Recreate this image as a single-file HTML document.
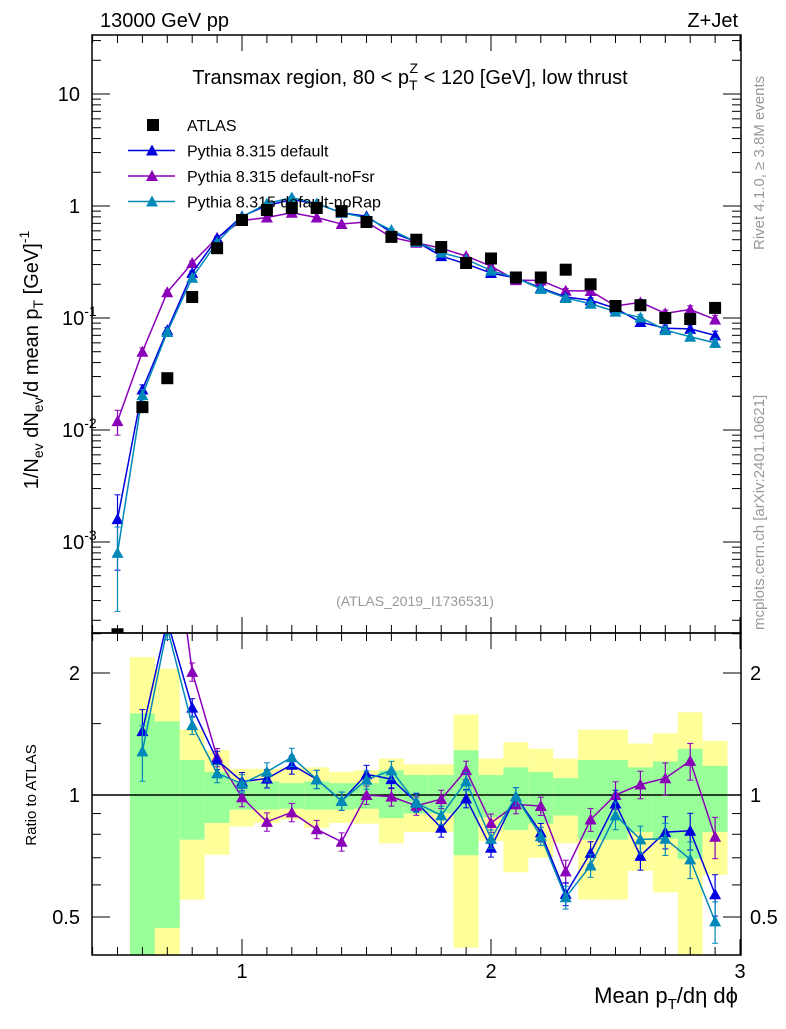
<!DOCTYPE html>
<html><head><meta charset="utf-8"><style>
body{margin:0;background:#fff}
svg text{font-family:"Liberation Sans",sans-serif}
</style></head><body>
<svg id="c" width="786" height="1024" viewBox="0 0 786 1024" xmlns="http://www.w3.org/2000/svg">
<rect width="786" height="1024" fill="#fff"/>
<g id="bands"></g>
<g id="grid"></g>
<g id="series"></g>
<rect x="92" y="35" width="649" height="598" fill="none" stroke="#000" stroke-width="1.5"/>
<rect x="92" y="633" width="649" height="322" fill="none" stroke="#000" stroke-width="1.5"/>
<text x="100" y="27" font-size="20">13000 GeV pp</text>
<text x="738" y="27" font-size="20" text-anchor="end">Z+Jet</text>
<text x="410" y="84" font-size="20" text-anchor="middle">Transmax region, 80 &lt; p<tspan font-size="14" dy="6">T</tspan><tspan font-size="14" dx="-8" dy="-17">Z</tspan><tspan dy="11"> &lt; 120 [GeV], low thrust</tspan></text>
<text x="415" y="606" font-size="14" fill="#999" text-anchor="middle">(ATLAS_2019_I1736531)</text>
<text transform="translate(764,250) rotate(-90)" font-size="15" fill="#999">Rivet 4.1.0, ≥ 3.8M events</text>
<text transform="translate(764,630) rotate(-90)" font-size="15" fill="#999">mcplots.cern.ch [arXiv:2401.10621]</text>
<text transform="translate(38,360) rotate(-90)" font-size="20" text-anchor="middle">1/N<tspan font-size="14" dy="5">ev</tspan><tspan dy="-5"> dN</tspan><tspan font-size="14" dy="5">ev</tspan><tspan dy="-5">/d mean p</tspan><tspan font-size="14" dy="5">T</tspan><tspan dy="-5"> [GeV]</tspan><tspan font-size="14" dy="-9">-1</tspan></text>
<text transform="translate(36,795) rotate(-90)" font-size="15" text-anchor="middle">Ratio to ATLAS</text>
<text x="738" y="1003" font-size="22" text-anchor="end">Mean p<tspan font-size="15" dy="6">T</tspan><tspan dy="-6">/dη dϕ</tspan></text>
<g id="legend"></g>
</svg>
<script>
const xs=[0.5,0.6,0.7,0.8,0.9,1.0,1.1,1.2,1.3,1.4,1.5,1.6,1.7,1.8,1.9,2.0,2.1,2.2,2.3,2.4,2.5,2.6,2.7,2.8,2.9];
const atlas=[1.5e-4,0.016,0.029,0.154,0.42,0.75,0.92,0.96,0.96,0.90,0.72,0.53,0.50,0.43,0.31,0.34,0.23,0.23,0.27,0.20,0.128,0.13,0.10,0.098,0.123];
const pyDefault=[1.6e-3,0.023,0.078,0.253,0.512,0.81,1.01,1.14,1.05,0.87,0.81,0.58,0.48,0.357,0.304,0.252,0.228,0.186,0.154,0.144,0.122,0.092,0.081,0.080,0.070];
const pyNoFsr=[0.012,0.05,0.17,0.31,0.52,0.74,0.79,0.87,0.79,0.69,0.72,0.525,0.47,0.42,0.357,0.29,0.218,0.216,0.175,0.174,0.128,0.138,0.11,0.119,0.097];
const pyNoRap=[8e-4,0.0205,0.075,0.229,0.475,0.80,1.05,1.19,1.05,0.87,0.785,0.61,0.478,0.383,0.335,0.265,0.228,0.182,0.151,0.134,0.114,0.101,0.078,0.068,0.060];
const errDefault=[0.65,0.1,0.05,0.04,0.03,0.02,0.02,0.02,0.02,0.02,0.02,0.02,0.03,0.03,0.03,0.03,0.04,0.04,0.05,0.05,0.06,0.06,0.07,0.08,0.09];
const errNoFsr=[0.25,0.08,0.04,0.04,0.03,0.02,0.02,0.02,0.02,0.02,0.02,0.02,0.03,0.03,0.03,0.03,0.04,0.04,0.05,0.05,0.06,0.06,0.07,0.08,0.09];
const errNoRap=[0.7,0.12,0.05,0.04,0.03,0.02,0.02,0.02,0.02,0.02,0.02,0.02,0.03,0.03,0.03,0.03,0.04,0.04,0.05,0.05,0.06,0.06,0.07,0.08,0.09];
const bandLo=[0.1,0.1,0.1,0.552,0.712,0.837,0.853,0.87,0.83,0.853,0.85,0.76,0.81,0.81,0.42,0.77,0.645,0.70,0.76,0.552,0.552,0.65,0.575,0.1,0.635];
const bandHi=[1,2.19,2.05,1.45,1.29,1.16,1.16,1.17,1.17,1.14,1.15,1.23,1.19,1.19,1.58,1.23,1.35,1.30,1.23,1.45,1.45,1.34,1.42,1.6,1.36];
const statLo=[1,0.1,0.47,0.776,0.853,0.92,0.92,0.925,0.92,0.92,0.925,0.877,0.90,0.90,0.71,0.88,0.82,0.85,0.89,0.776,0.776,0.81,0.78,0.695,0.81];
const statHi=[1,1.59,1.52,1.22,1.14,1.08,1.08,1.07,1.08,1.07,1.07,1.15,1.12,1.12,1.29,1.12,1.17,1.14,1.10,1.22,1.22,1.17,1.21,1.30,1.18];
const yMainTicks=[{v:10,t:"10"},{v:1,t:"1"},{v:0.1,t:"10",e:"-1"},{v:0.01,t:"10",e:"-2"},{v:0.001,t:"10",e:"-3"}];
const yRatioTicks=[{v:2,t:"2"},{v:1,t:"1"},{v:0.5,t:"0.5"}];
const xTicks=[1,2,3];

const NS="http://www.w3.org/2000/svg";
const X=v=>242+(v-1)*249;
const Y=v=>206-Math.log10(v)*112;
const R=v=>795-Math.log2(v)*122;
function mk(tag,attrs,parent){const e=document.createElementNS(NS,tag);for(const k in attrs)e.setAttribute(k,attrs[k]);parent.appendChild(e);return e;}
const svg=document.getElementById('c');
const gB=document.getElementById('bands'),gG=document.getElementById('grid'),gS=document.getElementById('series'),gL=document.getElementById('legend');
const clampR=v=>Math.min(955,Math.max(633,v));
// bands
for(let i=1;i<xs.length;i++){
  const x0=X(xs[i]-0.05),x1=X(xs[i]+0.05);
  let r=mk('rect',{x:x0,y:clampR(R(bandHi[i])),width:x1-x0,height:clampR(R(bandLo[i]))-clampR(R(bandHi[i])),fill:'#ffff99'},gB);
  
  
  let s=mk('rect',{x:x0,y:clampR(R(statHi[i])),width:x1-x0,height:clampR(R(statLo[i]))-clampR(R(statHi[i])),fill:'#99ff99'},gB);
  
  
}
mk('line',{x1:92,x2:741,y1:R(1),y2:R(1),stroke:'#000','stroke-width':1.5},gG);
// x ticks
for(let v=0.4;v<=3.001;v+=0.1){
  const major=Math.abs(v-Math.round(v))<1e-6;const L=major?16:8;const x=X(v);
  mk('line',{x1:x,x2:x,y1:633,y2:633-L,stroke:'#000'},gG);
  mk('line',{x1:x,x2:x,y1:633,y2:633+L,stroke:'#000'},gG);
  mk('line',{x1:x,x2:x,y1:955,y2:955-L,stroke:'#000'},gG);
  mk('line',{x1:x,x2:x,y1:35,y2:35+L,stroke:'#000'},gG);
}
xTicks.forEach(v=>{const t=mk('text',{x:X(v),y:978,'font-size':20,'text-anchor':'middle'},gG);t.textContent=v;

});
// y main ticks
for(let d=-4;d<=1;d++){for(let m=1;m<10;m++){const v=m*Math.pow(10,d);const y=Y(v);if(y<35||y>633)continue;const L=m==1?18:9;
mk('line',{x1:92,x2:92+L,y1:y,y2:y,stroke:'#000'},gG);mk('line',{x1:741,x2:741-L,y1:y,y2:y,stroke:'#000'},gG);}}
yMainTicks.forEach(o=>{const t=mk('text',{x:o.e?62:80,y:Y(o.v)+7,'font-size':20,'text-anchor':o.e?'start':'end'},gG);
t.textContent=o.t;if(o.e){const s=mk('tspan',{'font-size':14,dy:-9},t);s.textContent=o.e;}

});
// ratio ticks
[0.4,0.5,0.6,0.7,0.8,0.9,1,1.5,2,2.5].forEach(v=>{const y=R(v);if(y<633||y>955)return;const L=(v==1||v==2||v==0.5)?18:9;
mk('line',{x1:92,x2:92+L,y1:y,y2:y,stroke:'#000'},gG);mk('line',{x1:741,x2:741-L,y1:y,y2:y,stroke:'#000'},gG);});
yRatioTicks.forEach(o=>{const t=mk('text',{x:80,y:R(o.v)+7,'font-size':20,'text-anchor':'end'},gG);t.textContent=o.t;


const t2=mk('text',{x:750,y:R(o.v)+7,'font-size':20},gG);t2.textContent=o.t;

});
// clip paths
const defs=mk('defs',{},svg);
const c1=mk('clipPath',{id:'cm'},defs);mk('rect',{x:92,y:35,width:649,height:598},c1);
const c2=mk('clipPath',{id:'cr'},defs);mk('rect',{x:92,y:633,width:649,height:322},c2);
const gm=mk('g',{'clip-path':'url(#cm)'},gS),gr=mk('g',{'clip-path':'url(#cr)'},gS);
function tri(g,x,y,col){return mk('path',{d:`M${x-6},${y+5}L${x+6},${y+5}L${x},${y-6}Z`,fill:col},g);}
function series(vals,errs,col,name){
  let pts=vals.map((v,i)=>X(xs[i])+','+Y(v)).join(' ');
  const l=mk('polyline',{points:pts,fill:'none',stroke:col,'stroke-width':1.5},gm);
  
  
  vals.forEach((v,i)=>{const x=X(xs[i]);
    const lo=Math.max(v*(1-errs[i]),1e-6),hi=v*(1+errs[i]);
    mk('line',{x1:x,x2:x,y1:Y(lo),y2:Y(hi),stroke:col,'stroke-width':1.2},gm);
    mk('line',{x1:x-3,x2:x+3,y1:Y(hi),y2:Y(hi),stroke:col},gm);mk('line',{x1:x-3,x2:x+3,y1:Y(lo),y2:Y(lo),stroke:col},gm);
    const m=tri(gm,x,Y(v),col);
    
    });
  const rp=[];
  vals.forEach((v,i)=>{if(i==0)return;const r=v/atlas[i];rp.push(X(xs[i])+','+R(r));});
  const rl=mk('polyline',{points:rp.join(' '),fill:'none',stroke:col,'stroke-width':1.5},gr);
  
  
  vals.forEach((v,i)=>{if(i==0)return;const r=v/atlas[i],x=X(xs[i]);const e=Math.max(errs[i],0.04)*1.3;
    mk('line',{x1:x,x2:x,y1:R(r*(1-e)),y2:R(r*(1+e)),stroke:col,'stroke-width':1.2},gr);
    mk('line',{x1:x-3,x2:x+3,y1:R(r*(1+e)),y2:R(r*(1+e)),stroke:col},gr);mk('line',{x1:x-3,x2:x+3,y1:R(r*(1-e)),y2:R(r*(1-e)),stroke:col},gr);
    const m=tri(gr,x,R(r),col);
    
    });
}
series(pyNoFsr,errNoFsr,'#8a00b8','pythia-nofsr');
series(pyDefault,errDefault,'#0000e0','pythia-default');
series(pyNoRap,errNoRap,'#0088b8','pythia-norap');
atlas.forEach((v,i)=>{const s=mk('rect',{x:X(xs[i])-6,y:Y(v)-6,width:12,height:12,fill:'#000'},gm);

});
// legend
const leg=[["ATLAS",null],["Pythia 8.315 default","#0000e0"],["Pythia 8.315 default-noFsr","#8a00b8"],["Pythia 8.315 default-noRap","#0088b8"]];
leg.forEach((e,i)=>{const y=125+i*25.5;const g=mk('g',{},gL);


if(!e[1])mk('rect',{x:147,y:y-6,width:12,height:12,fill:'#000'},g);
else{mk('line',{x1:128,x2:175,y1:y,y2:y,stroke:e[1],'stroke-width':1.5},g);tri(g,152,y,e[1]);}
const t=mk('text',{x:187,y:y+6,'font-size':16},g);t.textContent=e[0];});
</script>
</body></html>
